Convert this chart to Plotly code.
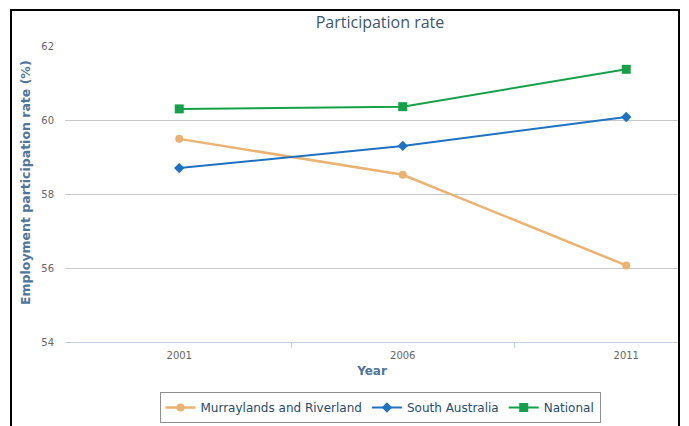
import plotly.graph_objects as go

years = ["2001", "2006", "2011"]
murraylands = [59.49, 58.52, 56.07]
south_australia = [58.70, 59.30, 60.08]
national = [60.30, 60.36, 61.37]

y_ticks = [54, 56, 58, 60, 62]

# the page body has an 8px margin, so the figure is shrunk and shifted
OFF = 8
W, H = 689 - OFF, 426 - OFF
L, R, T, B = 65 - OFF, 10, 46 - OFF, 84
pw, ph = W - L - R, H - T - B

xpos = list(range(len(years)))
step = 223.5
x0 = -0.5 - 2.5 / step

fig = go.Figure()
fig.add_trace(go.Scatter(x=xpos, y=murraylands, name="Murraylands and Riverland", mode="lines+markers",
                         line=dict(color="#EBB272", width=2.5),
                         marker=dict(symbol="circle", size=8, color="#EBB272")))
fig.add_trace(go.Scatter(x=xpos, y=south_australia, name="South Australia", mode="lines+markers",
                         line=dict(color="#1F72C2", width=2),
                         marker=dict(symbol="diamond", size=8, color="#1F72C2")))
fig.add_trace(go.Scatter(x=xpos, y=national, name="National", mode="lines+markers",
                         line=dict(color="#17A04A", width=2),
                         marker=dict(symbol="square", size=9, color="#17A04A")))

# page px -> paper helpers
def px_x(p):
    return (p - OFF - L) / pw

def px_y(p):
    return (H - B - (p - OFF)) / ph

fig.update_layout(
    width=W, height=H,
    margin=dict(l=L, r=R, t=T, b=B, autoexpand=False),
    paper_bgcolor="white", plot_bgcolor="white",
    font=dict(family="DejaVu Sans", size=11, color="#666666"),
    title=dict(text="Participation rate", x=px_x(380), xref="paper", xanchor="center",
               y=1 - (22 - OFF) / H, yanchor="middle",
               font=dict(family="Open Sans", size=16, color="#3E576F")),
    showlegend=True,
    legend=dict(orientation="h", x=px_x(380), xanchor="center", y=px_y(392), yanchor="top",
                bordercolor="#909090", borderwidth=1, bgcolor="white",
                font=dict(family="DejaVu Sans", size=12, color="#274B6D"),
                itemwidth=30, tracegroupgap=0),
    xaxis=dict(range=[x0, x0 + pw / step], tickmode="array", tickvals=xpos, ticktext=years,
               automargin=False, ticklabelstandoff=4,
               showgrid=False, zeroline=False, showline=True, linecolor="#C0D0E0", linewidth=1,
               ticks="", tickfont=dict(size=10, color="#666666"),
               minor=dict(tickmode="array", tickvals=[0.5, 1.5], ticks="outside", ticklen=5,
                          tickcolor="#C0D0E0", showgrid=False),
               title=dict(text="<b>Year</b>", standoff=6,
                          font=dict(size=12, color="#4D759E"))),
    yaxis=dict(range=[54, 62], tickvals=y_ticks, showgrid=True, gridcolor="#C8C8C8", gridwidth=1,
               automargin=False,
               zeroline=False, showline=False, ticks="outside", ticklen=8, tickcolor="rgba(0,0,0,0)",
               tickfont=dict(size=10, color="#666666")),
    annotations=[
        dict(text="<b>Employment participation rate (%)</b>", textangle=-90, showarrow=False,
             xref="paper", yref="paper", x=px_x(25), y=px_y(183), xanchor="center", yanchor="middle",
             font=dict(size=12.5, color="#4D759E")),
    ],
    shapes=[
        dict(type="rect", xref="paper", yref="paper", x0=px_x(11), x1=px_x(679), y0=px_y(10), y1=px_y(440),
             line=dict(color="black", width=2), layer="above"),
    ],
)

fig.write_html("out.html")
